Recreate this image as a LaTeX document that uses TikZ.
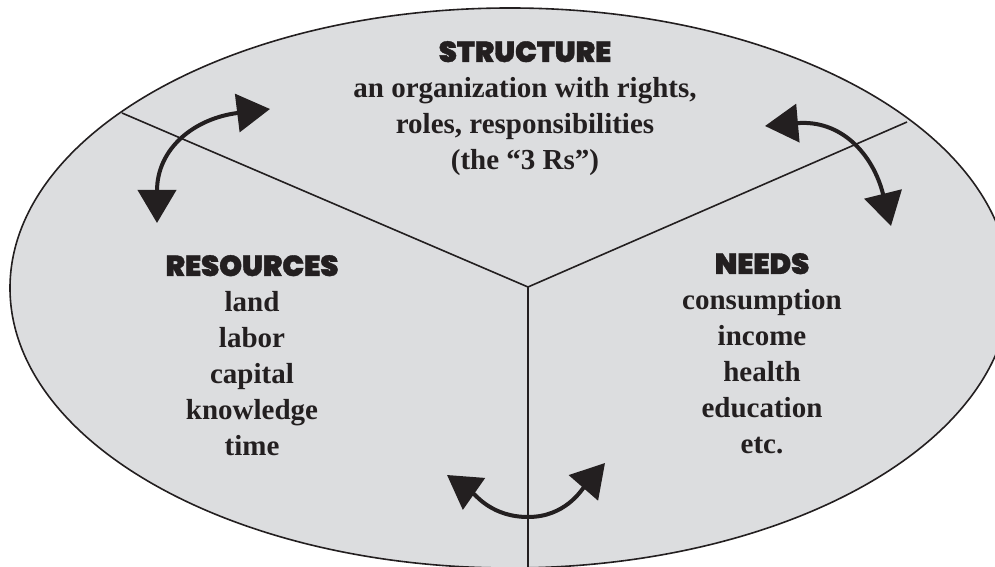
\documentclass[tikz,border=0pt]{standalone}
\usepackage{fontspec}
\setmainfont{Liberation Serif}
\newfontfamily\headfont{Poppins Black}[BoldFont={Poppins Black},BoldFeatures={FakeBold=1.2}]
\usetikzlibrary{arrows.meta}
\definecolor{ink}{HTML}{231F20}
\definecolor{sector}{HTML}{DCDDDF}
\tikzstyle{divider} = [draw=ink,line width=1.6pt]
\tikzstyle{swap} = [draw=ink,line width=4pt,{Triangle[length=33pt,width=38pt]}-{Triangle[length=33pt,width=38pt]}]
\tikzstyle{block} = [inner sep=0pt,align=center,text=ink,anchor=base,font=\fontsize{29}{36}\selectfont\bfseries]
\newcommand{\headtext}[1]{{\headfont\fontsize{29}{36}\selectfont #1}}

\begin{document}
\begin{tikzpicture}[x=1pt,y=1pt]
    \clip (0,0) rectangle (995,567);
    % the ellipse and its three sectors
    \draw[draw=ink,fill=sector,line width=1.6pt] (510,279) ellipse [x radius=500pt,y radius=280pt];
    \coordinate (hub) at (528,280);
    \coordinate (rimleft) at (122,454);
    \coordinate (rimright) at (907,445);
    \coordinate (rimbottom) at (528,-4);
    \draw[divider] (rimleft) -- (hub) -- (rimright);
    \draw[divider] (hub) -- (rimbottom);
    % texts (base = last line)
    \node[block] (structure) at (525,397) {\headtext{STRUCTURE}\\an organization with rights,\\roles, responsibilities\\(the “3 Rs”)};
    \node[block] (resources) at (252,111) {\headtext{RESOURCES}\\land\\labor\\capital\\knowledge\\time};
    \node[block] (needs) at (762,113) {\headtext{NEEDS}\\consumption\\income\\health\\education\\etc.};
    % exchange arrows
    \coordinate (lefttip) at (157,344);
    \coordinate (toptipl) at (270,458);
    \coordinate (toptipr) at (765,441);
    \coordinate (righttip) at (891,341);
    \coordinate (lowtipl) at (447,92);
    \coordinate (lowmid) at (528,50);
    \coordinate (lowtipr) at (605,104);
    \draw[swap] (lefttip) to[out=90,in=187,looseness=1.2] (toptipl);
    \draw[swap] (toptipr) to[out=5,in=104,looseness=1.2] (righttip);
    \draw[swap] (lowtipl) to[out=-35,in=180] (lowmid) to[out=0,in=229] (lowtipr);
\end{tikzpicture}
\end{document}
